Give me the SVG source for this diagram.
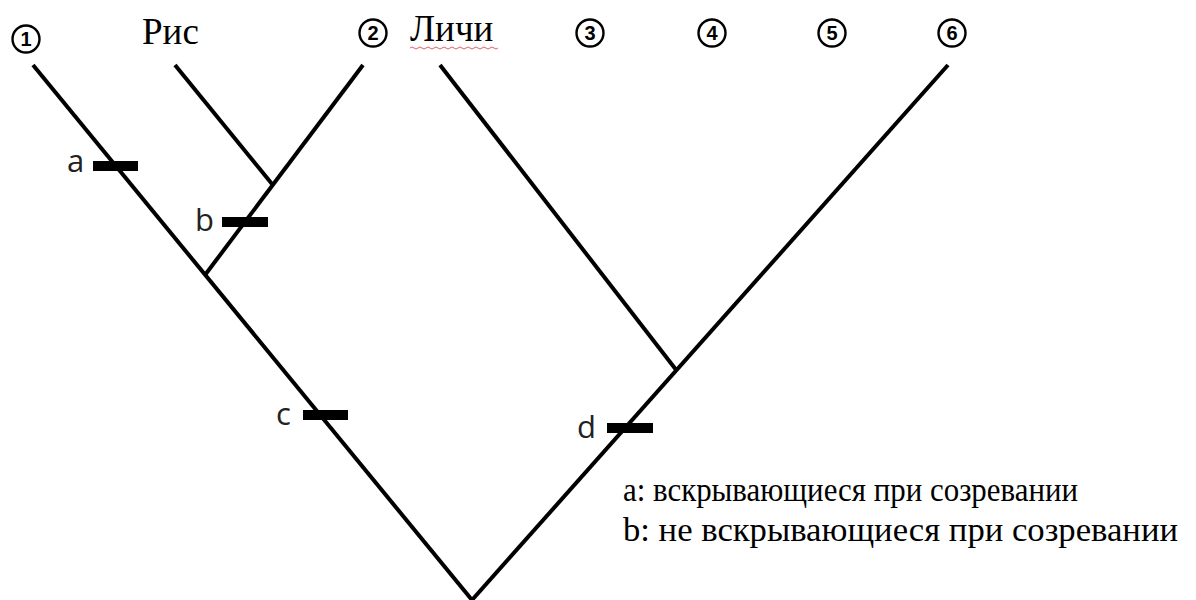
<svg xmlns="http://www.w3.org/2000/svg" width="1196" height="600" viewBox="0 0 1196 600">
<style>
.br{stroke:#000;stroke-width:4;fill:none;stroke-linecap:butt}
.bar{fill:#000}
.lbl{font-family:"Open Sans","DejaVu Sans",sans-serif;font-size:31px;fill:#222}
.ser{font-family:"Liberation Serif",serif;fill:#000}
.cn{fill:none;stroke:#000;stroke-width:2.4}
.cd{font-family:"Liberation Sans",sans-serif;font-weight:bold;font-size:20px;text-anchor:middle;fill:#000}
</style>
<rect width="1196" height="600" fill="#fff"/>
<g id="connectors">
<line class="br" x1="33" y1="65" x2="472" y2="600"/>
<line class="br" x1="948" y1="65" x2="472" y2="600"/>
<line class="br" x1="363" y1="65" x2="205" y2="275"/>
<line class="br" x1="175" y1="65" x2="272" y2="184"/>
<line class="br" x1="440" y1="65" x2="677" y2="371"/>
</g>
<g id="taxon1"><circle class="cn" cx="26" cy="39" r="13.5"/><text class="cd" x="26" y="46">1</text></g>
<g id="rice"><text class="ser" x="142" y="44" font-size="37">Рис</text></g>
<g id="taxon2"><circle class="cn" cx="373" cy="33" r="13.5"/><text class="cd" x="373" y="40">2</text></g>
<g id="lychee"><text class="ser" x="410" y="41" font-size="37">Личи</text>
<path d="M410,48 q2,-2 4,0 t4,0 t4,0 t4,0 t4,0 t4,0 t4,0 t4,0 t4,0 t4,0 t4,0 t4,0 t4,0 t4,0 t4,0 t4,0 t4,0 t4,0 t4,0 t4,0 t4,0 t4,0" fill="none" stroke="#e06070" stroke-width="1"/></g>
<g id="taxon3"><circle class="cn" cx="590" cy="33" r="13.5"/><text class="cd" x="590" y="40">3</text></g>
<g id="taxon4"><circle class="cn" cx="712" cy="33" r="13.5"/><text class="cd" x="712" y="40">4</text></g>
<g id="taxon5"><circle class="cn" cx="832" cy="33" r="13.5"/><text class="cd" x="832" y="40">5</text></g>
<g id="taxon6"><circle class="cn" cx="952" cy="33" r="13.5"/><text class="cd" x="952" y="40">6</text></g>
<g id="mark-a"><rect class="bar" x="93" y="161" width="45" height="10"/><text class="lbl" x="67" y="172">a</text></g>
<g id="mark-b"><rect class="bar" x="222" y="217" width="46" height="10"/><text class="lbl" x="195" y="231">b</text></g>
<g id="mark-c"><rect class="bar" x="303" y="410" width="45" height="10"/><text class="lbl" x="276" y="425">c</text></g>
<g id="mark-d"><rect class="bar" x="607" y="423" width="46" height="10"/><text class="lbl" x="577" y="438">d</text></g>
<g id="legend">
<text class="ser" x="623" y="501" font-size="34" textLength="455" lengthAdjust="spacingAndGlyphs">a: вскрывающиеся при созревании</text>
<text class="ser" x="623" y="541" font-size="34" textLength="555" lengthAdjust="spacingAndGlyphs">b: не вскрывающиеся при созревании</text>
</g>
</svg>
